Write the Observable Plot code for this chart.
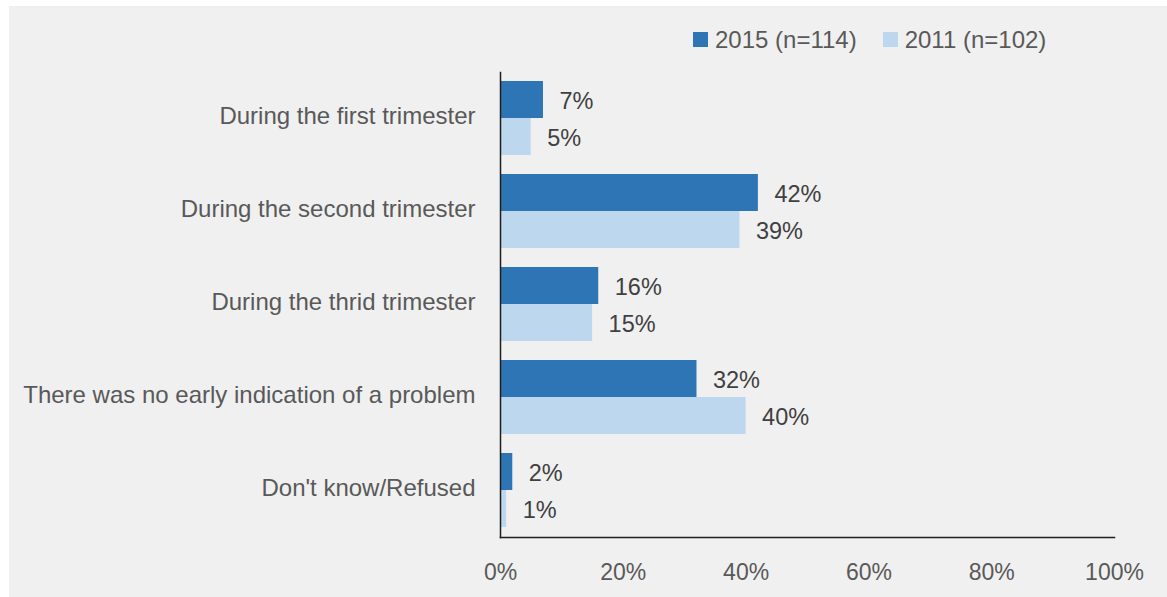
<!DOCTYPE html>
<html>
<head>
<meta charset="utf-8">
<script src="https://cdn.jsdelivr.net/npm/d3@7"></script>
<script src="https://cdn.jsdelivr.net/npm/@observablehq/plot@0.6"></script>
<style>
  html, body { margin: 0; padding: 0; background: #ffffff; }
  body { width: 1167px; height: 597px; overflow: hidden; position: relative; font-family: "Liberation Sans", Arial, sans-serif; }
  #panel { position: absolute; left: 9px; top: 6px; width: 1158px; height: 591px; background: #f0f0f0; }
  #legend { height: 54px; box-sizing: border-box; padding-top: 13px; padding-left: 684px; display: flex; align-items: center; font-size: 24px; color: #595959; }
  .item { display: flex; align-items: center; margin-right: 26px; }
  .sw { width: 15px; height: 15px; margin-right: 7px; }
  svg { display: block; }
</style>
</head>
<body>
<div id="panel">
  <div id="legend"></div>
  <div id="chart"></div>
</div>
<script>
const categories = [
  "During the first trimester",
  "During the second trimester",
  "During the thrid trimester",
  "There was no early indication of a problem",
  "Don't know/Refused"
];
const series = ["2015 (n=114)", "2011 (n=102)"];
const values2015 = [7, 42, 16, 32, 2];
const values2011 = [5, 39, 15, 40, 1];
const colors = ["#2e75b6", "#bdd7ee"];
const xTicks = [0, 20, 40, 60, 80, 100];

const d2015 = categories.map((c, i) => ({category: c, value: values2015[i] / 100}));
const d2011 = categories.map((c, i) => ({category: c, value: values2011[i] / 100}));

// legend
const legend = document.getElementById("legend");
series.forEach((s, i) => {
  const it = document.createElement("div");
  it.className = "item";
  const sw = document.createElement("div");
  sw.className = "sw";
  sw.style.background = colors[i];
  const tx = document.createElement("span");
  tx.textContent = s;
  it.appendChild(sw);
  it.appendChild(tx);
  legend.appendChild(it);
});

const half = 37;
const pct = d => Math.round(d * 100) + "%";

const chart = Plot.plot({
  width: 1158,
  height: 537,
  marginLeft: 491,
  marginRight: 53,
  marginTop: 12,
  marginBottom: 60,
  style: {background: "transparent", color: "#595959", fontFamily: "Liberation Sans, Arial, sans-serif", fontSize: "23px"},
  x: {domain: [0, 1], label: null},
  y: {domain: categories, paddingInner: 0.204, paddingOuter: 0.1, label: null},
  marks: [
    Plot.barX(d2015, {x: "value", y: "category", fill: colors[0], insetBottom: half}),
    Plot.barX(d2011, {x: "value", y: "category", fill: colors[1], insetTop: half}),
    Plot.text(d2015, {x: "value", y: "category", text: d => pct(d.value), dx: 16, dy: -half / 2 + 1, textAnchor: "start", fill: "#404040", fontSize: 23.5}),
    Plot.text(d2011, {x: "value", y: "category", text: d => pct(d.value), dx: 16, dy: half / 2 + 1, textAnchor: "start", fill: "#404040", fontSize: 23.5}),
    Plot.axisX({ticks: xTicks.map(t => t / 100), tickFormat: d => Math.round(d * 100) + "%", tickSize: 0, tickPadding: 26, fontSize: 23, label: null}),
    Plot.axisY({tickSize: 0, tickPadding: 25, fontSize: 24, dy: -2, label: null}),
    Plot.frame({anchor: "left", stroke: "#1e1e1e", strokeWidth: 1.5}),
    Plot.frame({anchor: "bottom", stroke: "#1e1e1e", strokeWidth: 1.5})
  ]
});
document.getElementById("chart").appendChild(chart);
</script>
</body>
</html>
